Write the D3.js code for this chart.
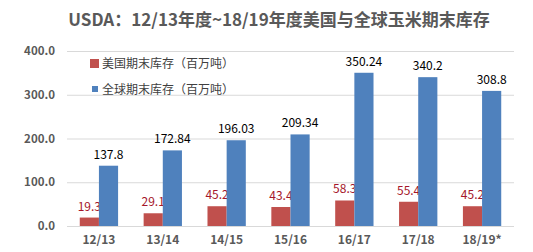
<!DOCTYPE html>
<html><head><meta charset="utf-8">
<script src="https://cdn.jsdelivr.net/npm/d3@7"></script>
<style>body{margin:0;background:#fff;} text{font-family:"Microsoft YaHei","Noto Sans CJK SC",sans-serif;}</style>
</head><body><svg id="c" width="533" height="252"></svg>
<script>
const categories = ["12/13","13/14","14/15","15/16","16/17","17/18","18/19*"];
const usStocks = [19.3,29.1,45.2,43.4,58.3,55.4,45.2];
const worldStocks = [137.8,172.84,196.03,209.34,350.24,340.2,308.8];
const usLabels = ["19.3","29.1","45.2","43.4","58.3","55.4","45.2"];
const worldLabels = ["137.8","172.84","196.03","209.34","350.24","340.2","308.8"];
const yTicks = [0,100,200,300,400];
const seriesNames = ["美国期末库存（百万吨）","全球期末库存（百万吨）"];

const svg = d3.select("#c");
const m = {l:67, r:19, t:51, b:26};
const W = 533, H = 252;
const x = d3.scaleBand().domain(categories).range([m.l, W-m.r]).paddingInner(0.4).paddingOuter(0.2);
const y = d3.scaleLinear().domain([0,400]).range([H-m.b, m.t]);
const x1 = d3.scaleBand().domain([0,1]).range([0, x.bandwidth()]);

svg.append("text").attr("x",279).attr("y",26).attr("text-anchor","middle")
  .attr("font-size",17).attr("font-weight","bold").attr("fill","#595959")
  .text("USDA：12/13年度~18/19年度美国与全球玉米期末库存");

const yAxis = d3.axisLeft(y).tickValues(yTicks).tickSize(-(W-m.l-m.r)).tickFormat(d3.format(".1f"));
const ga = svg.append("g").attr("transform",`translate(${m.l},0)`).call(yAxis);
ga.select(".domain").remove();
ga.selectAll(".tick line").attr("stroke","#d9d9d9");
ga.selectAll(".tick text").attr("x",-12).attr("font-size",11.5).attr("font-weight","bold").attr("fill","#595959");

const xAxis = d3.axisBottom(x).tickSize(0);
const gx = svg.append("g").attr("transform",`translate(0,${H-m.b})`).call(xAxis);
gx.select(".domain").remove();
gx.selectAll(".tick text").attr("dy","1.25em").attr("font-size",12).attr("font-weight","bold").attr("fill","#595959");

const colors = ["#c0504d","#4f81bd"];
const labelColors = ["#a5162a","#000000"];
[usStocks, worldStocks].forEach((vals, si) => {
  const labs = si===0 ? usLabels : worldLabels;
  svg.append("g").selectAll("rect").data(vals).join("rect")
    .attr("x",(d,i)=>x(categories[i])+x1(si)).attr("width",x1.bandwidth())
    .attr("y",d=>y(d)).attr("height",d=>y(0)-y(d)).attr("fill",colors[si]);
  svg.append("g").selectAll("text").data(vals).join("text")
    .attr("x",(d,i)=>x(categories[i])+x1(si)+x1.bandwidth()/2)
    .attr("y",d=>y(d)-7).attr("text-anchor","middle").attr("font-size",12)
    .attr("fill",labelColors[si]).text((d,i)=>labs[i]);
});

// legend
const lg = svg.append("g");
lg.append("rect").attr("x",90).attr("y",59).attr("width",9).attr("height",9).attr("fill",colors[0]);
lg.append("rect").attr("x",92).attr("y",86).attr("width",6).attr("height",6).attr("fill",colors[1]);
lg.append("text").attr("x",102).attr("y",68).attr("font-size",12).attr("fill","#404040").text(seriesNames[0]);
lg.append("text").attr("x",102).attr("y",94).attr("font-size",12).attr("fill","#404040").text(seriesNames[1]);
</script></body></html>
